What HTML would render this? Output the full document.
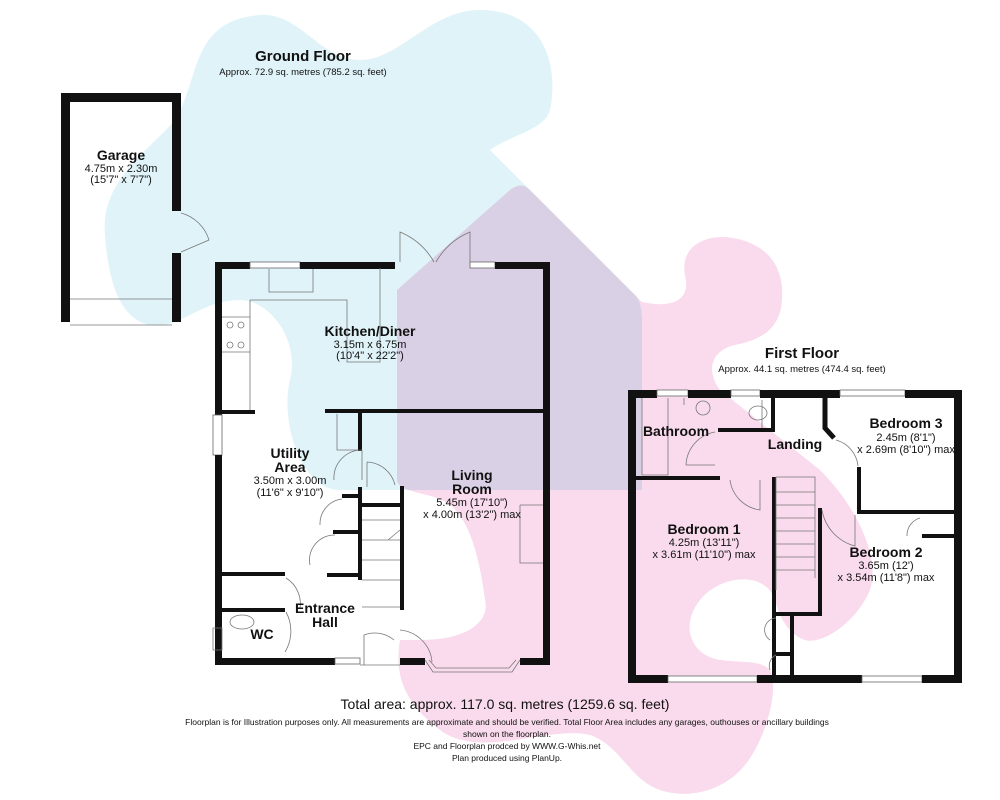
<!DOCTYPE html>
<html><head><meta charset="utf-8"><style>
html,body{margin:0;padding:0;background:#fff;width:1000px;height:800px;overflow:hidden}
svg{display:block}
text{font-family:"Liberation Sans",sans-serif;fill:#111}
.t{font-weight:bold;font-size:14px}
.s{font-size:11px}
.w{fill:#111}
.l{fill:none;stroke:#777;stroke-width:0.8}
.win{fill:#fff;stroke:#666;stroke-width:0.8}
</style></head><body>
<svg width="1000" height="800" viewBox="0 0 1000 800">
<g style="isolation:isolate">
<path fill="#dff3f8" d="M105 235 C100 180 150 150 175 120 C200 80 190 20 260 15 C300 12 320 60 360 60 C400 60 430 10 480 10 C540 10 560 60 550 110 C545 130 510 135 490 150 L635 295 C640 300 642 310 642 320 L642 490 L340 490 C300 490 280 420 290 380 C300 340 270 300 240 300 C200 300 180 330 150 325 C120 320 108 280 105 235 Z"/>
<path fill="#f9dbed" style="mix-blend-mode:multiply" d="M397 290 L510 190 C518 184 524 184 530 190 L642 302 C680 310 690 295 685 275 C680 250 700 236 725 237 C760 240 785 260 782 300 C780 330 760 340 735 345 C712 350 705 370 720 390 L820 470 C860 510 880 560 870 590 C855 625 820 645 805 640 C790 635 780 620 775 600 C765 570 720 575 700 600 C680 625 690 655 720 660 C745 663 760 660 770 670 C780 690 765 740 745 765 C725 790 690 800 660 790 C630 780 620 745 590 735 C550 725 480 760 440 730 C400 700 395 670 400 640 L420 640 C470 640 490 620 485 600 C480 560 470 520 450 505 C430 490 400 495 397 480 Z"/>
</g>

<!-- Titles -->
<text class="t" x="303" y="61" text-anchor="middle" style="font-size:15px">Ground Floor</text>
<text class="s" x="303" y="75" text-anchor="middle" style="font-size:9.5px">Approx. 72.9 sq. metres (785.2 sq. feet)</text>
<text class="t" x="802" y="358" text-anchor="middle" style="font-size:15px">First Floor</text>
<text class="s" x="802" y="372" text-anchor="middle" style="font-size:9.5px">Approx. 44.1 sq. metres (474.4 sq. feet)</text>

<!-- Garage -->
<rect class="w" x="61" y="93" width="9" height="229"/>
<rect class="w" x="61" y="93" width="120" height="9"/>
<rect class="w" x="172" y="93" width="9" height="118"/>
<rect class="w" x="172" y="253" width="9" height="69"/>
<path class="l" d="M70 299 H172 M70 325 H172 M181 213 A40 40 0 0 1 209 240 L181 252"/>
<text class="t" x="121" y="160" text-anchor="middle">Garage</text>
<text class="s" x="121" y="172" text-anchor="middle">4.75m x 2.30m</text>
<text class="s" x="121" y="183" text-anchor="middle">(15'7" x 7'7")</text>

<!-- Ground floor walls -->
<rect class="w" x="215" y="262" width="35" height="7"/>
<rect class="win" x="250" y="262" width="50" height="6"/>
<rect class="w" x="300" y="262" width="95" height="7"/>
<rect class="win" x="470" y="262" width="25" height="6"/>
<rect class="w" x="495" y="262" width="55" height="7"/>
<rect class="w" x="543" y="262" width="7" height="403"/>
<rect class="w" x="215" y="262" width="7" height="153"/>
<rect class="win" x="213" y="415" width="9" height="40"/>
<rect class="w" x="215" y="455" width="7" height="210"/>
<rect class="w" x="215" y="658" width="120" height="7"/>
<rect class="win" x="335" y="658" width="25" height="6"/>
<rect class="w" x="400" y="658" width="25" height="7"/>
<rect class="w" x="520" y="658" width="30" height="7"/>
<path class="l" d="M425 660 L433 672 H512 L520 660 M429 660 L436 668 H509 L516 660 M400 262 V232 A70 70 0 0 1 434 262 M470 262 V232 A70 70 0 0 0 436 262 M360 665 H400 M364 665 V635 A30 30 0 0 1 394 640"/>
<path class="l" d="M400 630 A35 35 0 0 1 432 662"/>
<!-- interior -->
<rect class="w" x="222" y="410" width="33" height="4"/>
<rect class="w" x="325" y="409" width="220" height="4"/>
<rect class="w" x="358" y="413" width="4" height="38"/>
<rect class="w" x="358" y="487" width="4" height="93"/>
<rect class="w" x="400" y="486" width="4" height="124"/>
<rect class="w" x="362" y="503" width="42" height="4"/>
<rect class="w" x="342" y="494" width="16" height="4"/>
<rect class="w" x="333" y="530" width="25" height="4"/>
<rect class="w" x="327" y="573" width="31" height="4"/>
<rect class="w" x="222" y="572" width="63" height="4"/>
<rect class="w" x="222" y="608" width="63" height="4"/>
<path class="l" d="M250 300 V410 M250 300 H347 V362 H380 V268 M269 269 V292 H313 V269 M222 317 H250 M222 352 H250 M337 414 V450 H358 M362 450 A28 28 0 0 0 334 480 M362 450 V480 M367 462 A30 30 0 0 1 395 485 M367 462 V487 M342 499 A25 25 0 0 0 320 525 M335 535 A25 25 0 0 0 310 565 M286 578 A30 30 0 0 1 300 608 M286 612 A40 40 0 0 1 285 652 M362 607 H400 M362 540 H400 M362 560 H400 M362 580 H400 M362 520 H400 M388 540 L400 530 M213 628 H222 V650 H213 Z"/>
<path class="l" d="M520 505 H543 M520 505 V563 H543"/>
<ellipse cx="242" cy="622" rx="12" ry="7" class="l"/>
<circle cx="230" cy="325" r="3" class="l"/><circle cx="241" cy="325" r="3" class="l"/><circle cx="230" cy="345" r="3" class="l"/><circle cx="241" cy="345" r="3" class="l"/>

<text class="t" x="370" y="336" text-anchor="middle">Kitchen/Diner</text>
<text class="s" x="370" y="348" text-anchor="middle">3.15m x 6.75m</text>
<text class="s" x="370" y="359" text-anchor="middle">(10'4" x 22'2")</text>
<text class="t" x="290" y="458" text-anchor="middle">Utility</text>
<text class="t" x="290" y="472" text-anchor="middle">Area</text>
<text class="s" x="290" y="484" text-anchor="middle">3.50m x 3.00m</text>
<text class="s" x="290" y="496" text-anchor="middle">(11'6" x 9'10")</text>
<text class="t" x="472" y="480" text-anchor="middle">Living</text>
<text class="t" x="472" y="494" text-anchor="middle">Room</text>
<text class="s" x="472" y="506" text-anchor="middle">5.45m (17'10")</text>
<text class="s" x="472" y="518" text-anchor="middle">x 4.00m (13'2") max</text>
<text class="t" x="325" y="613" text-anchor="middle">Entrance</text>
<text class="t" x="325" y="627" text-anchor="middle">Hall</text>
<text class="t" x="262" y="639" text-anchor="middle">WC</text>

<!-- First floor -->
<rect class="w" x="628" y="390" width="29" height="8"/>
<rect class="win" x="657" y="390" width="31" height="6"/>
<rect class="w" x="688" y="390" width="43" height="8"/>
<rect class="win" x="731" y="390" width="29" height="6"/>
<rect class="w" x="760" y="390" width="80" height="8"/>
<rect class="win" x="840" y="390" width="65" height="6"/>
<rect class="w" x="905" y="390" width="57" height="8"/>
<rect class="w" x="954" y="390" width="8" height="293"/>
<rect class="w" x="628" y="390" width="8" height="293"/>
<rect class="w" x="628" y="675" width="40" height="8"/>
<rect class="win" x="668" y="676" width="89" height="6"/>
<rect class="w" x="757" y="675" width="105" height="8"/>
<rect class="win" x="862" y="676" width="60" height="6"/>
<rect class="w" x="922" y="675" width="40" height="8"/>
<rect class="w" x="636" y="476" width="84" height="4"/>
<rect class="w" x="718" y="428" width="57" height="4"/>
<rect class="w" x="771" y="398" width="4" height="34"/>
<path d="M825 398 V428 L834 438" stroke="#111" stroke-width="5" fill="none"/>
<rect class="w" x="857" y="467" width="4" height="46"/>
<rect class="w" x="857" y="510" width="98" height="4"/>
<rect class="w" x="772" y="477" width="4" height="206"/>
<rect class="w" x="818" y="508" width="4" height="108"/>
<rect class="w" x="772" y="612" width="50" height="4"/>
<rect class="w" x="790" y="615" width="4" height="68"/>
<rect class="w" x="772" y="652" width="22" height="4"/>
<rect class="w" x="922" y="534" width="33" height="4"/>
<path class="l" d="M642 398 V475 M642 475 H668 V398 M684 398 V405 M776 477 V590 M776 477 H815 V578 M776 492 H815 M776 505 H815 M776 518 H815 M776 531 H815 M776 544 H815 M776 557 H815 M776 570 H815 M715 432 A35 35 0 0 0 686 465 H715 M730 480 A35 35 0 0 0 760 510 V480 M836 440 A30 30 0 0 1 858 466 M822 510 A45 45 0 0 0 855 546 V515 M920 518 A18 18 0 0 0 907 536 M776 618 A12 12 0 0 0 770 640 M776 655 A12 12 0 0 0 770 670 M762 400 V428"/>
<circle cx="703" cy="408" r="7" class="l"/>
<ellipse cx="758" cy="413" rx="9" ry="7" class="l"/>
<text class="t" x="676" y="436" text-anchor="middle">Bathroom</text>
<text class="t" x="795" y="449" text-anchor="middle">Landing</text>
<text class="t" x="906" y="428" text-anchor="middle">Bedroom 3</text>
<text class="s" x="906" y="441" text-anchor="middle">2.45m (8'1")</text>
<text class="s" x="906" y="453" text-anchor="middle">x 2.69m (8'10") max</text>
<text class="t" x="704" y="534" text-anchor="middle">Bedroom 1</text>
<text class="s" x="704" y="546" text-anchor="middle">4.25m (13'11")</text>
<text class="s" x="704" y="558" text-anchor="middle">x 3.61m (11'10") max</text>
<text class="t" x="886" y="557" text-anchor="middle">Bedroom 2</text>
<text class="s" x="886" y="569" text-anchor="middle">3.65m (12')</text>
<text class="s" x="886" y="581" text-anchor="middle">x 3.54m (11'8") max</text>

<!-- footer -->
<text x="505" y="709" text-anchor="middle" style="font-size:14px">Total area: approx. 117.0 sq. metres (1259.6 sq. feet)</text>
<text x="507" y="725" text-anchor="middle" style="font-size:8.5px">Floorplan is for Illustration purposes only. All measurements are approximate and should be verified. Total Floor Area includes any garages, outhouses or ancillary buildings</text>
<text x="507" y="737" text-anchor="middle" style="font-size:8.5px">shown on the floorplan.</text>
<text x="507" y="749" text-anchor="middle" style="font-size:8.5px">EPC and Floorplan prodced by WWW.G-Whis.net</text>
<text x="507" y="761" text-anchor="middle" style="font-size:8.5px">Plan produced using PlanUp.</text>
</svg>
</body></html>
